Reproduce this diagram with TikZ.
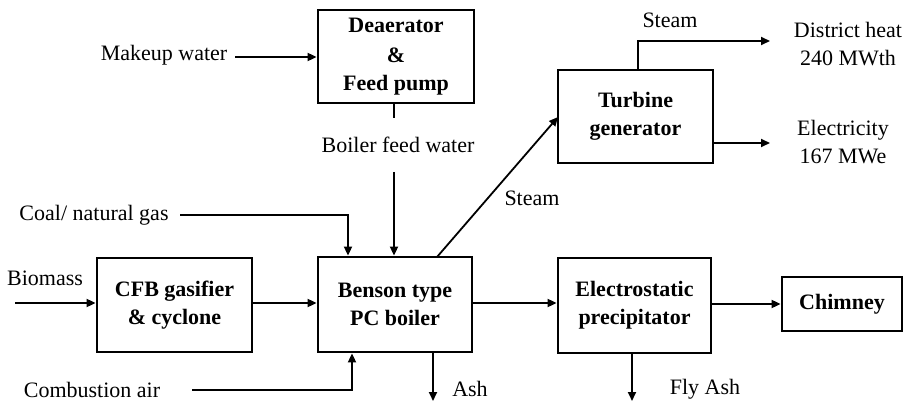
\documentclass[tikz,border=0pt]{standalone}
\usepackage{fontspec}
\setmainfont{Liberation Serif}
\usetikzlibrary{arrows.meta}
\begin{document}
\begin{tikzpicture}[x=1pt,y=-1pt,
  box/.style={draw,line width=2.8pt,align=center,font=\bfseries\fontsize{22}{28}\selectfont,inner sep=0pt},
  lbl/.style={font=\fontsize{22}{28}\selectfont,align=center,inner sep=1pt},
  conn/.style={line width=1.8pt},
  arr/.style={line width=1.8pt,-{Triangle[length=9pt,width=8pt]}}]
\useasboundingbox (0,0) rectangle (907,403);
% boxes
\node[box,minimum width=156pt,minimum height=93pt] (dea) at (396,56.5) {Deaerator\\[2pt]\&\\[0pt]Feed pump};
\node[box,minimum width=155pt,minimum height=93pt] (tur) at (635.5,116.5) {Turbine\\generator};
\node[box,minimum width=155pt,minimum height=94pt] (cfb) at (174.5,305) {CFB gasifier\\\& cyclone};
\node[box,minimum width=154pt,minimum height=95pt] (boi) at (395,304.5) {Benson type\\PC boiler};
\node[box,minimum width=153pt,minimum height=95pt] (esp) at (634.5,305.5) {Electrostatic\\precipitator};
\node[box,minimum width=120pt,minimum height=54pt] (chim) at (842,304) {Chimney};
% labels
\node[lbl] (mw) at (164,55) {Makeup water};
\node[lbl] (bfw) at (398,145) {Boiler feed water};
\node[lbl] (st1) at (670,20) {Steam};
\node[lbl] (dh) at (848,44) {District heat\\240 MWth};
\node[lbl] (el) at (843,142) {Electricity\\167 MWe};
\node[lbl] (st2) at (532,198) {Steam};
\node[lbl] (coal) at (94,215) {Coal/ natural gas};
\node[lbl] (bio) at (45,278) {Biomass};
\node[lbl] (ca) at (92,390) {Combustion air};
\node[lbl] (ash) at (470,389) {Ash};
\node[lbl] (fa) at (705,389) {Fly Ash};
% coordinates
\coordinate (mwS) at (235,57);
\coordinate (bfwA) at (394,118);
\coordinate (bfwB) at (394,172);
\coordinate (stT) at (638,41);
\coordinate (dhE) at (770,41);
\coordinate (elE) at (770,143);
\coordinate (stA) at (437,257);
\coordinate (stB) at (558,117);
\coordinate (coalS) at (180,215);
\coordinate (coalC) at (348,215);
\coordinate (bioS) at (15,303);
\coordinate (caS) at (192,390);
\coordinate (caC) at (352,390);
\coordinate (ashE) at (433,401);
\coordinate (faE) at (632,401);
% connectors
\draw[arr] (mwS) -- (mwS -| dea.west);
\draw[conn] (bfwA |- dea.south) -- (bfwA);
\draw[arr] (bfwB) -- (bfwB |- boi.north);
\draw[arr] (stT |- tur.north) -- (stT) -- (dhE);
\draw[arr] (elE -| tur.east) -- (elE);
\draw[arr] (stA) -- (stB);
\draw[arr] (coalS) -- (coalC) -- (coalC |- boi.north);
\draw[arr] (bioS) -- (bioS -| cfb.west);
\draw[arr] (cfb.east |- bioS) -- (bioS -| boi.west);
\draw[arr] (caS) -- (caC) -- (caC |- boi.south);
\draw[arr] (ashE |- boi.south) -- (ashE);
\draw[arr] (boi.east |- bioS) -- (bioS -| esp.west);
\draw[arr] (esp.east |- chim.west) -- (chim.west);
\draw[arr] (faE |- esp.south) -- (faE);
\end{tikzpicture}
\end{document}
